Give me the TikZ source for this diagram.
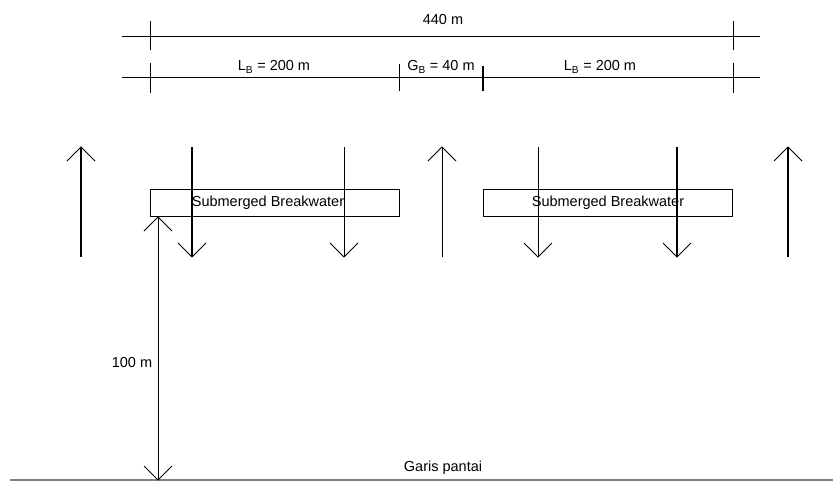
\documentclass[tikz,border=0pt]{standalone}
\usepackage{fontspec}
\setmainfont{Liberation Sans}
\begin{document}
\begin{tikzpicture}[x=1pt,y=-1pt,
  lbl/.style={font=\fontsize{14.5}{16}\selectfont, inner sep=0pt},
  dimline/.style={line width=0.9pt},
  tick/.style={line width=1pt},
  thk/.style={line width=1.7pt},
  bw/.style={draw, line width=1pt, minimum width=249pt, minimum height=27pt, inner sep=0pt, anchor=north west},
  flow/.style={line width=1pt},
  head/.style={line width=1pt}
]
\useasboundingbox (0,0) rectangle (833,483);
% dimension lines
\coordinate (t1a) at (122,36); \coordinate (t1b) at (760,36);
\coordinate (t2a) at (122,77); \coordinate (t2b) at (760,77);
\draw[dimline] (t1a) -- (t1b);
\draw[dimline] (t2a) -- (t2b);
\draw[tick] (150,21) -- (150,50);
\draw[tick] (733,21) -- (733,50);
\draw[tick] (150,63) -- (150,93);
\draw[tick] (399,64) -- (399,91);
\draw[thk] (483,66) -- (483,91);
\draw[tick] (733,63) -- (733,93);
\node[lbl] (d440) at (443,19.5) {440 m};
\node[lbl] (lb1) at (274,67) {L\textsubscript{B} = 200 m};
\node[lbl] (gb) at (441,67) {G\textsubscript{B} = 40 m};
\node[lbl] (lb2) at (600,67) {L\textsubscript{B} = 200 m};
% breakwaters
\node[bw] (bw1) at (150,189) {};
\node[lbl] (bw1t) at (268,203) {Submerged Breakwater};
\node[bw] (bw2) at (483,189) {};
\node[lbl] (bw2t) at (608,203) {Submerged Breakwater};
% up arrows
\foreach \x/\w in {81/1.7pt,442/1pt,788/1.7pt}{
  \draw[line width=\w] (\x,257) -- (\x,147);
  \draw[head] (\x-14,161) -- (\x,147) -- (\x+14,161);
}
% down arrows
\foreach \x/\w in {192/1.7pt,344/1pt,538/1pt,677/1.2pt}{
  \draw[line width=\w] (\x,147) -- (\x,257);
  \draw[head] (\x-14,243) -- (\x,257) -- (\x+14,243);
}
% shoreline
\coordinate (s1) at (10,480); \coordinate (s2) at (833,480);
\draw[gray, line width=1.8pt] (s1) -- (s2);
\node[lbl] (shore) at (443,468) {Garis pantai};
% 100 m dimension
\coordinate (ma) at (158,217); \coordinate (mb) at (158,480);
\draw[flow] (ma) -- (mb);
\draw[head] (144,231) -- (ma) -- (172,231);
\draw[head] (144,466) -- (mb) -- (172,466);
\node[lbl] (h100) at (132,363) {100 m};
\end{tikzpicture}
\end{document}
